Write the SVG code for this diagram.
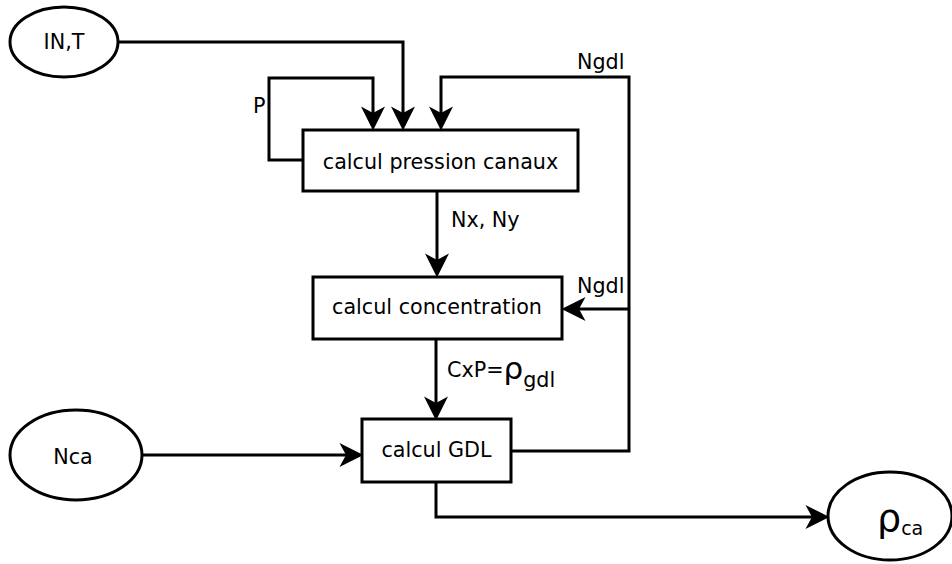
<svg xmlns="http://www.w3.org/2000/svg" width="952" height="564" viewBox="0 0 952 564">
<defs>
<marker id="arr" markerUnits="userSpaceOnUse" markerWidth="24" markerHeight="24" viewBox="0 0 22 22" refX="6" refY="11" orient="auto" overflow="visible">
<path d="M22,11 L0,0 L6,11 L0,22 Z" fill="#000"/>
</marker>
</defs>
<style>
.s{fill:#fff;stroke:#000;stroke-width:3}
.c{fill:none;stroke:#000;stroke-width:3;marker-end:url(#arr)}
text{font-family:"DejaVu Sans",sans-serif;font-size:20.7px;fill:#000}
.m{text-anchor:middle}
</style>
<rect width="952" height="564" fill="#fff"/>
<g id="connectors">
<path class="c" d="M118,42 H403 V113"/>
<path class="c" d="M303,160 H269 V78 H373 V113"/>
<path class="c" d="M511,451 H629 V77 H441 V113"/>
<path class="c" d="M629,309 H579"/>
<path class="c" d="M437,191 V260"/>
<path class="c" d="M436,339 V403"/>
<path class="c" d="M142,455 H346"/>
<path class="c" d="M436,482 V517 H812"/>
<text x="253" y="113">P</text>
<text x="577" y="69">Ngdl</text>
<text x="577" y="293">Ngdl</text>
<text x="451" y="227">Nx, Ny</text>
<text x="447" y="377">CxP=<tspan font-size="31" dy="2">ρ</tspan><tspan dy="8">gdl</tspan></text>
</g>
<g id="in_t">
<ellipse class="s" cx="64" cy="42" rx="54" ry="35"/>
<text class="m" x="64" y="49">IN,T</text>
</g>
<g id="pression">
<rect class="s" x="303" y="130" width="275" height="61"/>
<text class="m" x="440.5" y="169">calcul pression canaux</text>
</g>
<g id="concentration">
<rect class="s" x="313" y="277" width="249" height="62"/>
<text class="m" x="437" y="314">calcul concentration</text>
</g>
<g id="gdl">
<rect class="s" x="362" y="419" width="149" height="63"/>
<text class="m" x="436.5" y="457">calcul GDL</text>
</g>
<g id="nca">
<ellipse class="s" cx="76" cy="455" rx="66" ry="45"/>
<text class="m" x="73" y="464">Nca</text>
</g>
<g id="rho_ca">
<ellipse class="s" cx="890" cy="516" rx="62" ry="44"/>
<text x="877" y="531"><tspan font-size="38">ρ</tspan><tspan font-size="19" dy="4">ca</tspan></text>
</g>
</svg>
